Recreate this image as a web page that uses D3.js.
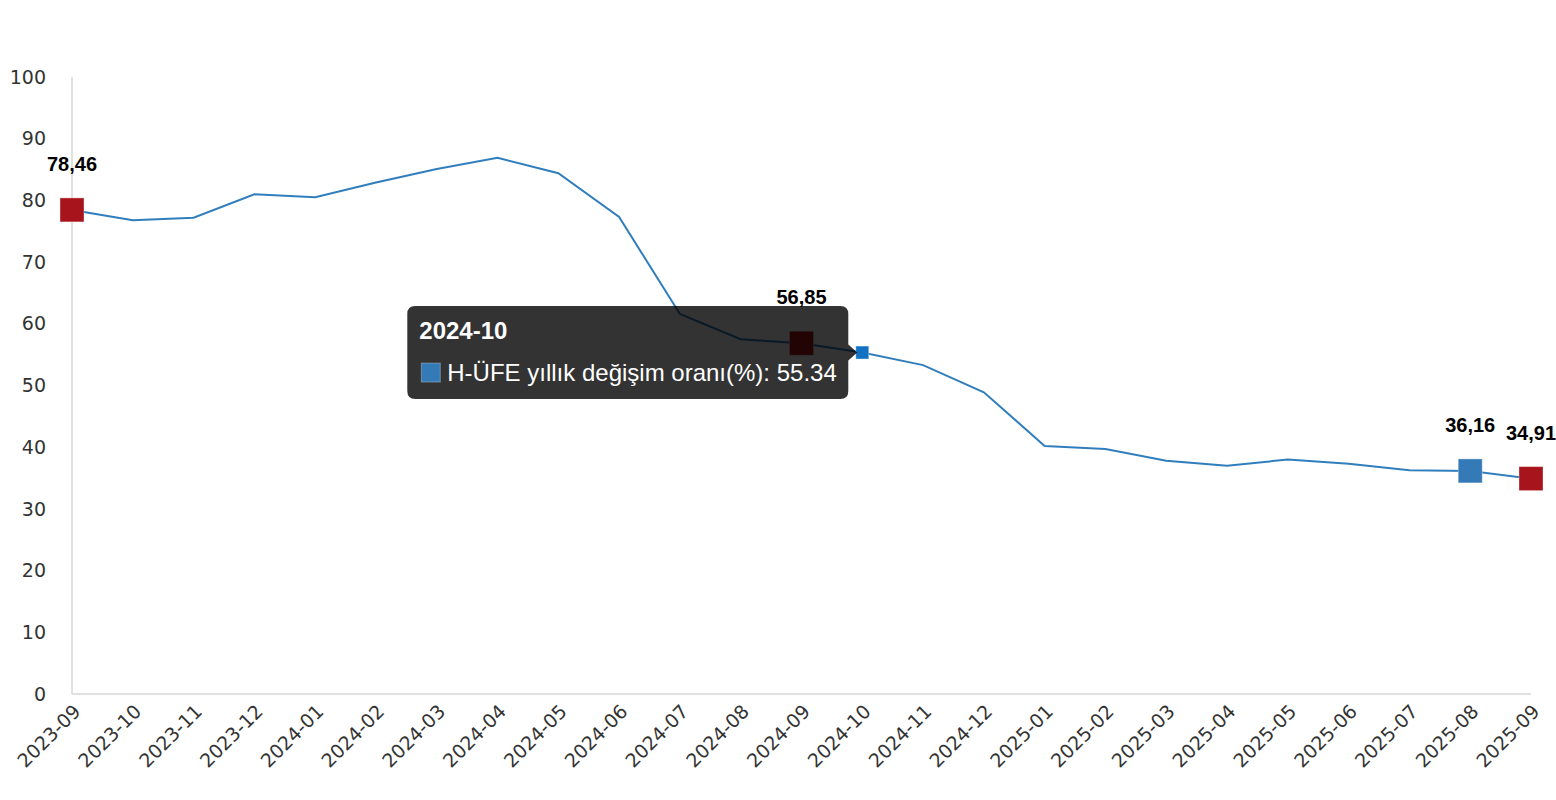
<!DOCTYPE html>
<html>
<head>
<meta charset="utf-8">
<script src="https://cdn.jsdelivr.net/npm/d3@7"></script>
<style>
  body { margin: 0; background: #fff; }
  .axis-label { font-family: "DejaVu Sans", sans-serif; font-size: 19px; fill: #333; }
  .data-label { font-family: "Liberation Sans", Arial, sans-serif; font-size: 20px; font-weight: bold; fill: #000; }
  .tip { font-family: "Liberation Sans", Arial, sans-serif; fill: #fff; }
</style>
</head>
<body>
<svg id="chart" width="1556" height="800"></svg>
<script>
// months on the x axis
var months = ["2023-09", "2023-10", "2023-11", "2023-12", "2024-01", "2024-02", "2024-03",
    "2024-04", "2024-05", "2024-06", "2024-07", "2024-08", "2024-09", "2024-10", "2024-11",
    "2024-12", "2025-01", "2025-02", "2025-03", "2025-04", "2025-05", "2025-06", "2025-07",
    "2025-08", "2025-09"];

// H-ÜFE yıllık değişim oranı (%)
var rates = [78.46, 76.8, 77.2, 81.0, 80.5, 82.9, 85.1, 86.9, 84.4, 77.3, 61.6, 57.5, 56.85,
    55.34, 53.3, 48.9, 40.2, 39.7, 37.8, 37.0, 38.0, 37.3, 36.25, 36.16, 34.91];

var yTicks = [0, 10, 20, 30, 40, 50, 60, 70, 80, 90, 100];

// labelled points and their marker colours
var markedMonths = ["2023-09", "2024-09", "2025-08", "2025-09"];
var markedColors = ["#a8141b", "#a8141b", "#337ab7", "#a8141b"];

// hovered point shown with the tooltip
var hoverMonth = "2024-10";
var seriesName = "H-ÜFE yıllık değişim oranı(%)";

var svg = d3.select("#chart"),
    margin = { top: 77, right: 25, bottom: 106, left: 72 },
    width = +svg.attr("width") - margin.left - margin.right,
    height = +svg.attr("height") - margin.top - margin.bottom;

var x = d3.scalePoint().domain(months).range([0, width]),
    y = d3.scaleLinear().domain([0, 100]).range([height, 0]);

var data = months.map(function (m, i) { return { month: m, value: rates[i] }; });

var g = svg.append("g")
    .attr("transform", "translate(" + margin.left + "," + margin.top + ")");

// axis lines
g.append("line")
    .attr("x1", 0).attr("x2", 0)
    .attr("y1", 0).attr("y2", height)
    .attr("stroke", "#e0e0e0").attr("stroke-width", 2);
g.append("line")
    .attr("x1", 0).attr("x2", width)
    .attr("y1", height).attr("y2", height)
    .attr("stroke", "#e0e0e0").attr("stroke-width", 2);

// y tick labels
g.selectAll(".ylab")
    .data(yTicks)
    .enter().append("text")
    .attr("class", "axis-label")
    .attr("x", -26)
    .attr("y", function (d) { return y(d); })
    .attr("dy", "0.35em")
    .attr("text-anchor", "end")
    .text(function (d) { return d; });

// x tick labels, rotated
g.selectAll(".xlab")
    .data(months)
    .enter().append("text")
    .attr("class", "axis-label")
    .attr("transform", function (d) { return "translate(" + (x(d) + 5) + "," + (height + 14) + ") rotate(-45)"; })
    .attr("dy", "0.35em")
    .attr("text-anchor", "end")
    .text(function (d) { return d; });

// the line
var line = d3.line()
    .x(function (d) { return x(d.month); })
    .y(function (d) { return y(d.value); });

g.append("path")
    .datum(data)
    .attr("fill", "none")
    .attr("stroke", "#317ebd")
    .attr("stroke-width", 2)
    .attr("d", line);

// square markers on labelled points
var marked = data.filter(function (d) { return markedMonths.indexOf(d.month) >= 0; });
var ms = 24;

g.selectAll(".marker")
    .data(marked)
    .enter().append("rect")
    .attr("x", function (d) { return x(d.month) - ms / 2; })
    .attr("y", function (d) { return y(d.value) - ms / 2; })
    .attr("width", ms)
    .attr("height", ms)
    .attr("fill", function (d) { return markedColors[markedMonths.indexOf(d.month)]; })
    .attr("stroke", "rgba(255,255,255,0.35)")
    .attr("stroke-width", 1);

g.selectAll(".data-label")
    .data(marked)
    .enter().append("text")
    .attr("class", "data-label")
    .attr("x", function (d) { return x(d.month); })
    .attr("y", function (d) { return y(d.value) - 46; })
    .attr("dy", "0.35em")
    .attr("text-anchor", "middle")
    .text(function (d) { return d3.format(".2f")(d.value).replace(".", ","); });

// hovered point
var hv = data.filter(function (d) { return d.month === hoverMonth; })[0];
var hx = x(hv.month), hy = y(hv.value);

g.append("rect")
    .attr("x", hx - 6.5).attr("y", hy - 6.5)
    .attr("width", 13).attr("height", 13)
    .attr("fill", "#1172c4")
    .attr("stroke", "rgba(255,255,255,0.4)")
    .attr("stroke-width", 1);

// tooltip
var tipW = 441, tipH = 93;
var tip = g.append("g")
    .attr("transform", "translate(" + (hx - 14 - tipW) + "," + (hy - tipH / 2) + ")");

tip.append("path")
    .attr("d", "M8,0 H" + (tipW - 8) + " Q" + tipW + ",0 " + tipW + ",8 V" + (tipH / 2 - 8) +
        " L" + (tipW + 9) + "," + (tipH / 2) + " L" + tipW + "," + (tipH / 2 + 8) +
        " V" + (tipH - 8) + " Q" + tipW + "," + tipH + " " + (tipW - 8) + "," + tipH +
        " H8 Q0," + tipH + " 0," + (tipH - 8) + " V8 Q0,0 8,0 Z")
    .attr("fill", "rgba(0,0,0,0.8)");

tip.append("text")
    .attr("class", "tip")
    .attr("x", 12).attr("y", 33)
    .attr("font-size", 24)
    .attr("font-weight", "bold")
    .text(hv.month);

tip.append("rect")
    .attr("x", 14).attr("y", 57)
    .attr("width", 19).attr("height", 19)
    .attr("fill", "#337ab7")
    .attr("stroke", "rgba(255,255,255,0.3)")
    .attr("stroke-width", 1);

tip.append("text")
    .attr("class", "tip")
    .attr("x", 40).attr("y", 75)
    .attr("font-size", 24)
    .text(seriesName + ": " + hv.value);
</script>
</body>
</html>
